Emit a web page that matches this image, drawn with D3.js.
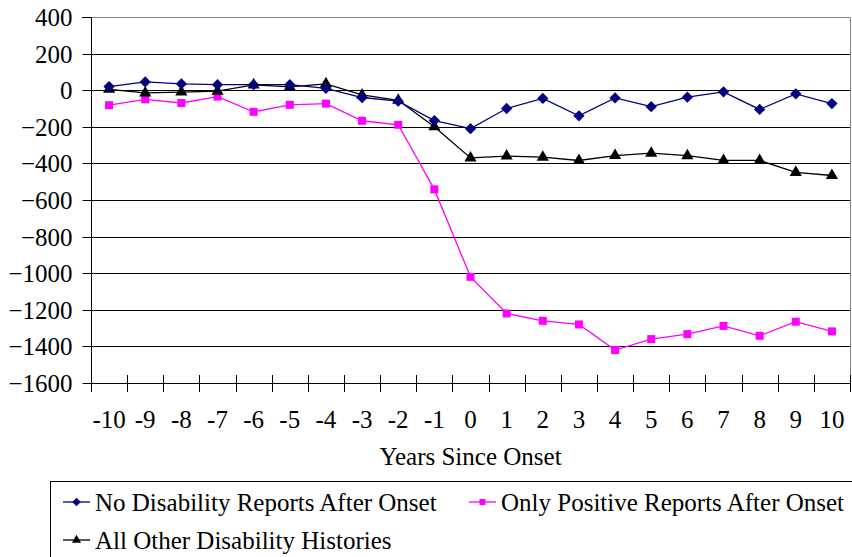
<!DOCTYPE html>
<html>
<head>
<meta charset="utf-8">
<script src="https://cdn.jsdelivr.net/npm/d3@7"></script>
</head>
<body style="margin:0">
<svg id="s" width="852" height="557"></svg>
<script>
// ---- Data ----
const years = [-10,-9,-8,-7,-6,-5,-4,-3,-2,-1,0,1,2,3,4,5,6,7,8,9,10];
const noDisability = [20,45,35,30,30,30,10,-40,-60,-166,-210,-100,-45,-140,-42,-90,-38,-9,-105,-20,-73];
const onlyPositive = [-82,-50,-70,-35,-118,-80,-73,-167,-189,-542,-1020,-1220,-1260,-1280,-1420,-1360,-1333,-1288,-1342,-1265,-1318];
const allOther = [5,-15,-10,-5,29,18,35,-26,-55,-200,-370,-360,-366,-384,-357,-344,-358,-384,-384,-449,-466];
const yTicks = [400,200,0,-200,-400,-600,-800,-1000,-1200,-1400,-1600];
const xTitle = "Years Since Onset";
const seriesNames = ["No Disability Reports After Onset","Only Positive Reports After Onset","All Other Disability Histories"];

const FONT = "Times New Roman";

// ---- Layout ----
const svg = d3.select("#s");
const L = 91, R = 850, T = 17, B = 383;

const x = d3.scaleBand().domain(years).range([L, R]).paddingInner(0).paddingOuter(0);
const y = d3.scaleLinear().domain([-1600, 400]).range([B, T]);
const cx = d => x(d) + x.bandwidth() / 2;

const diamond = {
  draw(ctx, size) {
    const r = Math.sqrt(size / 2);
    ctx.moveTo(0, -r); ctx.lineTo(r, 0); ctx.lineTo(0, r); ctx.lineTo(-r, 0); ctx.closePath();
  }
};

// gridlines
svg.append("g").selectAll("line").data(yTicks.filter(v => v !== 400)).join("line")
  .attr("x1", L).attr("x2", R)
  .attr("y1", d => Math.round(y(d)) + 0.5).attr("y2", d => Math.round(y(d)) + 0.5)
  .attr("stroke", "#000").attr("stroke-width", 1);

// plot border top and right (gray)
svg.append("path")
  .attr("d", `M${L},${Math.round(T)+0.5}H${R+0.5}V${B}`)
  .attr("fill", "none").attr("stroke", "#808080").attr("stroke-width", 1);

// y axis line + ticks
svg.append("path").attr("d", `M${L-9},${Math.round(T)+0.5}H${L+0.5}V${Math.round(B)+0.5}`)
  .attr("fill", "none").attr("stroke", "#000");
const yAxis = svg.append("g").attr("transform", `translate(${L+0.5},0)`)
  .call(d3.axisLeft(y).tickValues(yTicks).tickSize(9).tickPadding(10).tickFormat(d3.format("d")));
yAxis.select(".domain").remove();
yAxis.attr("font-family", null).attr("font-size", null);
yAxis.selectAll(".tick line").attr("stroke", "#000").attr("y1", 0.5).attr("y2", 0.5);
yAxis.selectAll(".tick").attr("transform", d => `translate(0,${Math.round(y(d))})`);
yAxis.selectAll(".tick text").attr("font-family", FONT).attr("font-size", 25).attr("fill", "#000").attr("dy", "0.35em");

// x axis line
svg.append("line").attr("x1", L).attr("x2", R + 1).attr("y1", Math.round(B) + 0.5).attr("y2", Math.round(B) + 0.5)
  .attr("stroke", "#000");
const bounds = years.map(d => x(d)).concat([R]);
svg.append("g").selectAll("line").data(bounds).join("line")
  .attr("x1", d => Math.round(d) + 0.5).attr("x2", d => Math.round(d) + 0.5)
  .attr("y1", B - 8).attr("y2", B + 9)
  .attr("stroke", "#000");
years.forEach(d => {
  svg.append("text").attr("x", cx(d)).attr("y", 428).attr("text-anchor", "middle")
    .attr("font-size", 25).attr("font-family", FONT).text(d);
});
svg.append("text").attr("x", (L + R) / 2).attr("y", 465).attr("text-anchor", "middle")
  .attr("font-size", 25).attr("font-family", FONT).text(xTitle);

// ---- Series ----
const line = d3.line().x((d, i) => cx(years[i])).y(d => y(d));
const series = [
  { name: seriesNames[0], data: noDisability, color: "#000080", sym: diamond, size: 64 },
  { name: seriesNames[1], data: onlyPositive, color: "#FF00FF", sym: d3.symbolSquare, size: 64 },
  { name: seriesNames[2], data: allOther, color: "#000000", sym: d3.symbolTriangle, size: 64 }
];
[series[1], series[2], series[0]].forEach(s => {
  svg.append("path").datum(s.data).attr("d", line)
    .attr("fill", "none").attr("stroke", s.color).attr("stroke-width", 1.3);
  svg.append("g").selectAll("path").data(s.data).join("path")
    .attr("d", d3.symbol().type(s.sym).size(s.size))
    .attr("transform", (d, i) => `translate(${cx(years[i])},${y(d)})`)
    .attr("fill", s.color);
});

// ---- Legend ----
svg.append("rect").attr("x", 50.5).attr("y", 481.5).attr("width", 820).attr("height", 100)
  .attr("fill", "#fff").attr("stroke", "#000").attr("stroke-width", 1);
const items = [
  { s: series[0], x: 63, y: 502 },
  { s: series[1], x: 469, y: 502 },
  { s: series[2], x: 63, y: 540 }
];
items.forEach(it => {
  svg.append("line").attr("x1", it.x).attr("x2", it.x + 27).attr("y1", it.y).attr("y2", it.y)
    .attr("stroke", it.s.color).attr("stroke-width", 1.3);
  svg.append("path").attr("d", d3.symbol().type(it.s.sym).size(36))
    .attr("transform", `translate(${it.x + 13.5},${it.y})`).attr("fill", it.s.color);
  svg.append("text").attr("x", it.x + 32).attr("y", it.y + 8.5)
    .attr("font-size", 25).attr("font-family", FONT).text(it.s.name);
});
</script>
</body>
</html>
